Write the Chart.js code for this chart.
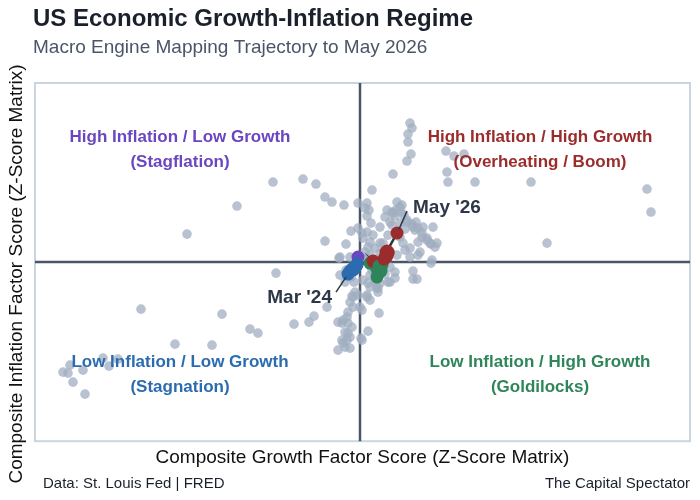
<!DOCTYPE html>
<html>
<head>
<meta charset="utf-8">
<script src="https://cdn.jsdelivr.net/npm/chart.js@4.4.1/dist/chart.umd.min.js"></script>
<style>
  html, body { margin: 0; padding: 0; background: #fff; }
  #wrap { width: 700px; height: 500px; }
</style>
</head>
<body>
<div id="wrap"><canvas id="regimeChart"></canvas></div>
<script>
// history of the composite scores (grey cloud)
const historyGrowth = [
  -0.87, -0.57, -0.44, -0.35, -0.28, -0.16, -0.02, -1.23, -1.73, -0.35, -0.09, -0.14, -0.02, -0.21, -0.20, -0.10, 0.02,
  0.50, 0.52, 0.48, 0.48, 0.51, 0.47, 0.86, 0.94, 1.04, 0.87, 0.88, 1.15, 1.71, 2.87, 2.91, 1.87, 0.33, 0.12, 0.07, 0.09, 0.07, 0.05,
  0.37, 0.42, 0.27, 0.32, 0.25, 0.30, 0.40, 0.47, 0.53, 0.58, 0.63, 0.73, 0.62, 0.67, 0.58, 0.70, 0.77, 0.75, 0.40, 0.43,
  0.58, 0.72, 0.20, 0.13, 0.08, 0.20, 0.32, 0.45, 0.60, 0.23, 0.05, 0.07, 0.30, 0.20, 0.10, 0.36, 0.41, 0.33, 0.11, 0.07,
  0.50, 0.37, 0.50, 0.03, 0.47, 0.52, 0.56, 0.55, 0.62, 0.67, 0.71, 0.35, 0.45, 0.38, 0.28, 0.15, 0.16, 0.10, 0.44, 0.40,
  0.71, 0.53, 0.53, 0.57, 0.35, 0.30, 0.19, 0.08, 0.02, 0.07, 0.10, 0.18, 0.15, 0.08, 0.02, 0.10, 0.18, 0.35, 0.30, 0.03,
  0.10, 0.20, 0.18, 0.01, 0.07, 0.28, 0.17, 0.12, 0.25,
  -0.84, -2.19, -1.38, -1.10, -1.02, -0.66, -0.51, -0.46, -1.85, -1.48, -2.57, -2.42, -2.51, -2.90, -2.97, -2.92, -2.77,
  -2.87, -2.75, -0.33, -0.22, -0.08, -0.20, -0.15, -0.07, -0.10, 0.00, -0.12, -0.13, -0.08, -0.17, -0.15, -0.10, -0.13,
  -0.18, -0.15, -0.22, -0.10, -0.18, -0.12, -0.07, -0.05, -0.02, -0.17, -0.12, -0.14, -0.06, -0.09
];
const historyInflation = [
  0.80, 0.83, 0.78, 0.65, 0.60, 0.57, 0.59, 0.56, 0.28, 0.21, 0.31, 0.18, 0.34, 0.04, 0.05, 0.05, 0.29,
  1.39, 1.34, 1.28, 1.20, 1.08, 1.01, 1.11, 1.06, 1.08, 0.90, 0.80, 0.80, 0.80, 0.73, 0.50, 0.19, 0.88, 0.72, 0.59, 0.52, 0.46, 0.54,
  0.60, 0.57, 0.52, 0.50, 0.45, 0.40, 0.39, 0.40, 0.35, 0.34, 0.35, 0.35, 0.25, 0.24, 0.20, 0.19, 0.19, 0.15, 0.25, 0.19,
  0.07, 0.02, 0.35, 0.27, 0.15, 0.19, 0.37, 0.12, 0.10, 0.19, 0.10, 0.04, 0.10, 0.09, 0.20, 0.52, 0.50, 0.49, 0.39, 0.30,
  0.14, 0.07, 0.05, 0.24, 0.42, 0.38, 0.40, 0.32, 0.29, 0.22, 0.18, 0.46, 0.33, 0.30, 0.27, 0.14, 0.03, 0.07, 0.47, 0.55,
  -0.01, -0.09, -0.17, -0.17, -0.10, -0.20, -0.51, -0.69, -0.78, -0.35, -0.38, -0.30, -0.20, -0.21, -0.48, -0.13, -0.13, -0.16, -0.05, -0.18,
  -0.25, -0.21, -0.26, -0.76, -0.33, -0.20, -0.26, -0.08, -0.12,
  -0.11, -0.47, -0.52, -0.67, -0.71, -0.62, -0.60, -0.54, -0.82, -0.83, -0.96, -0.97, -1.04, -1.03, -1.10, -1.11, -1.08,
  -1.20, -1.32, -0.45, -0.60, -0.34, -0.13, -0.20, -0.35, -0.40, -0.45, -0.50, -0.55, -0.65, -0.58, -0.70, -0.75, -0.78,
  -0.78, -0.85, -0.88, -0.86, -0.61, -0.61, -0.45, -0.30, -0.33, -0.81, -0.71, -0.08, -0.20, -0.15
];

// monthly trajectory, Mar 2024 to May 2026
const pathMonths = [
  "Mar '24", "Apr '24", "May '24", "Jun '24", "Jul '24", "Aug '24", "Sep '24", "Oct '24", "Nov '24", "Dec '24",
  "Jan '25", "Feb '25", "Mar '25", "Apr '25", "May '25", "Jun '25", "Jul '25", "Aug '25", "Sep '25", "Oct '25",
  "Nov '25", "Dec '25", "Jan '26", "Feb '26", "Mar '26", "Apr '26", "May '26"
];
const pathGrowth = [
  -0.12, -0.10, -0.08, -0.05, -0.03, -0.07, -0.05, -0.02, -0.03, 0.10,
  0.16, 0.18, 0.17, 0.21, 0.13, 0.19, 0.22, 0.25, 0.27, 0.28,
  0.26, 0.27, 0.24, 0.26, 0.28, 0.27, 0.37
];
const pathInflation = [
  -0.12, -0.09, -0.07, -0.05, -0.03, -0.08, -0.06, 0.05, -0.02, -0.01,
  -0.05, -0.11, -0.15, -0.09, 0.01, -0.04, -0.03, 0.04, 0.08, 0.09,
  0.10, 0.06, 0.03, 0.07, 0.10, 0.11, 0.29
];

const quadrantTitles = ['High Inflation / Low Growth', 'High Inflation / High Growth', 'Low Inflation / Low Growth', 'Low Inflation / High Growth'];
const quadrantNicknames = ['(Stagflation)', '(Overheating / Boom)', '(Stagnation)', '(Goldilocks)'];

const FONT = "'Liberation Sans', Arial, Helvetica, sans-serif";
const QUAD_COLORS = ['#6b46c1', '#9b2c2c', '#2b6cb0', '#2f855a'];
const INK = '#2d3748';

function quadIndex(g, i) {
  if (i >= 0) return g < 0 ? 0 : 1;
  return g < 0 ? 2 : 3;
}

const historyPoints = historyGrowth.map((g, k) => ({ x: g, y: historyInflation[k] }));
const pathPoints = pathGrowth.map((g, k) => ({ x: g, y: pathInflation[k] }));
const pathColors = pathGrowth.map((g, k) => QUAD_COLORS[quadIndex(g, pathInflation[k])]);

const regimeDecor = {
  id: 'regimeDecor',
  beforeDatasetsDraw(chart) {
    const { ctx, chartArea: a, scales } = chart;
    const x0 = scales.x.getPixelForValue(0);
    const y0 = scales.y.getPixelForValue(0);
    ctx.save();
    ctx.strokeStyle = '#cbd5e0';
    ctx.lineWidth = 2;
    ctx.strokeRect(a.left, a.top, a.right - a.left, a.bottom - a.top);
    ctx.strokeStyle = '#4a5568';
    ctx.lineWidth = 2.5;
    ctx.beginPath();
    ctx.moveTo(x0, a.top); ctx.lineTo(x0, a.bottom);
    ctx.moveTo(a.left, y0); ctx.lineTo(a.right, y0);
    ctx.stroke();
    ctx.restore();
  },
  afterDatasetsDraw(chart) {
    const { ctx, scales } = chart;
    ctx.save();
    // quadrant captions
    const spots = [[-1.8, 1.12], [1.8, 1.12], [-1.8, -1.13], [1.8, -1.13]];
    ctx.textAlign = 'center';
    ctx.textBaseline = 'middle';
    ctx.font = 'bold 17px ' + FONT;
    spots.forEach((s, q) => {
      const px = scales.x.getPixelForValue(s[0]);
      const py = scales.y.getPixelForValue(s[1]);
      ctx.fillStyle = QUAD_COLORS[q];
      ctx.fillText(quadrantTitles[q], px, py - 12.5);
      ctx.fillText(quadrantNicknames[q], px, py + 12.5);
    });

    // start / end callouts
    const first = 0, last = pathGrowth.length - 1;
    const fx = scales.x.getPixelForValue(pathGrowth[first]);
    const fy = scales.y.getPixelForValue(pathInflation[first]);
    const lx = scales.x.getPixelForValue(pathGrowth[last]);
    const ly = scales.y.getPixelForValue(pathInflation[last]);
    ctx.strokeStyle = INK;
    ctx.lineWidth = 1.5;
    ctx.beginPath();
    ctx.moveTo(fx - 2, fy + 3); ctx.lineTo(fx - 12, fy + 18);
    ctx.moveTo(lx + 2, ly - 4); ctx.lineTo(lx + 10, ly - 22);
    ctx.stroke();
    ctx.fillStyle = INK;
    ctx.font = 'bold 19px ' + FONT;
    ctx.textAlign = 'right';
    ctx.fillText(pathMonths[first], fx - 16, fy + 24);
    ctx.textAlign = 'left';
    ctx.fillText(pathMonths[last], lx + 16, ly - 25);
    ctx.restore();
  },
  afterDraw(chart) {
    const { ctx, width } = chart;
    ctx.save();
    ctx.textBaseline = 'middle';
    ctx.textAlign = 'left';
    ctx.fillStyle = '#1a202c';
    ctx.font = 'bold 24px ' + FONT;
    ctx.fillText('US Economic Growth-Inflation Regime', 33, 19);
    ctx.fillStyle = '#4a5568';
    ctx.font = '19px ' + FONT;
    ctx.fillText('Macro Engine Mapping Trajectory to May 2026', 33, 48);
    ctx.fillStyle = '#1a202c';
    ctx.font = '15px ' + FONT;
    ctx.fillText('Data: St. Louis Fed | FRED', 43, 484);
    ctx.textAlign = 'right';
    ctx.fillText('The Capital Spectator', width - 10, 484);

    // vertical axis title, sitting a little below the plot centre like the original
    ctx.translate(17, 274);
    ctx.rotate(-Math.PI / 2);
    ctx.textAlign = 'center';
    ctx.fillStyle = '#111';
    ctx.font = '19px ' + FONT;
    ctx.fillText('Composite Inflation Factor Score (Z-Score Matrix)', 0, 0);
    ctx.restore();
  }
};

new Chart(document.getElementById('regimeChart'), {
  type: 'scatter',
  data: {
    datasets: [
      {
        label: 'Trajectory',
        data: pathPoints,
        showLine: true,
        borderColor: INK,
        borderWidth: 2.5,
        pointRadius: 6.5,
        pointBorderWidth: 0,
        pointBackgroundColor: pathColors,
        order: 0
      },
      {
        label: 'History',
        data: historyPoints,
        pointRadius: 4.8,
        pointBorderWidth: 0,
        pointBackgroundColor: 'rgba(160, 174, 192, 0.75)',
        order: 1
      }
    ]
  },
  options: {
    responsive: true,
    maintainAspectRatio: false,
    animation: false,
    layout: { padding: { top: 83, right: 10, bottom: 28, left: 35 } },
    plugins: { legend: { display: false }, tooltip: { enabled: false } },
    scales: {
      x: {
        type: 'linear', min: -3.25, max: 3.30,
        grid: { display: false, drawTicks: false },
        border: { display: false },
        ticks: { display: false },
        title: { display: true, text: 'Composite Growth Factor Score (Z-Score Matrix)', color: '#111', font: { family: FONT, size: 19 }, padding: { top: 5, bottom: 3 } }
      },
      y: {
        type: 'linear', min: -1.79, max: 1.79,
        grid: { display: false, drawTicks: false },
        border: { display: false },
        ticks: { display: false },
        title: { display: false }
      }
    }
  },
  plugins: [regimeDecor]
});
</script>
</body>
</html>
